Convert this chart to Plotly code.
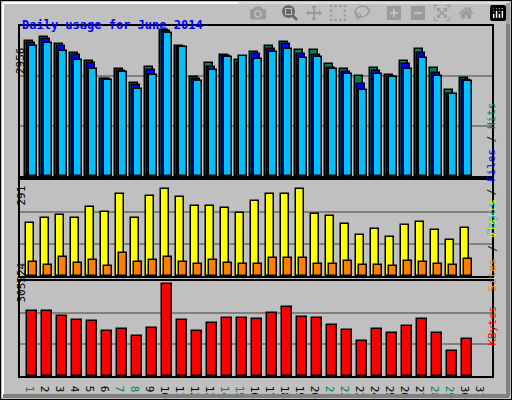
import plotly.graph_objects as go
from plotly.subplots import make_subplots

days = list(range(1, 32))
weekend_days = [1, 7, 8, 14, 15, 21, 22, 28, 29]

hits = [2734, 2815, 2674, 2493, 2332, 1970, 2171, 1890, 2211, 2956, 2634, 2010, 2292, 2453, 2352,
        2513, 2634, 2715, 2553, 2553, 2272, 2171, 2031, 2191, 2051, 2332, 2574, 2191, 1749, 1990]
files = [2694, 2775, 2634, 2453, 2292, 1970, 2131, 1850, 2151, 2936, 2614, 1970, 2212, 2433, 2292,
         2473, 2574, 2675, 2473, 2453, 2191, 2110, 1870, 2131, 2011, 2272, 2493, 2091, 1669, 1950]
pages = [2634, 2694, 2533, 2352, 2171, 1950, 2110, 1769, 2051, 2896, 2614, 1930, 2151, 2413, 2433,
         2373, 2513, 2574, 2393, 2413, 2171, 2071, 1749, 2071, 2010, 2171, 2393, 2031, 1669, 1930]
visits = [177, 192, 202, 195, 230, 215, 272, 195, 266, 291, 263, 234, 234, 228, 209,
          250, 272, 272, 291, 206, 199, 173, 136, 158, 130, 171, 181, 152, 120, 161]
sites = [47, 38, 63, 44, 54, 35, 76, 47, 54, 63, 47, 41, 54, 44, 41,
         41, 60, 60, 60, 41, 41, 51, 38, 38, 32, 51, 47, 41, 38, 57]
kbytes = [215997, 215997, 199210, 185780, 182423, 148849, 155564, 132062, 158921, 305524,
          185780, 148849, 175708, 192495, 192495, 189137, 209282, 229426, 195852, 192495,
          168993, 152206, 115275, 155564, 142134, 165636, 189137, 142134, 81701, 122633]

GREY = "#C0C0C0"
FONT = "DejaVu Sans Mono"

fig = make_subplots(rows=3, cols=1)
fig.update_layout(barmode="overlay")


def bars(vals, color, row, left, right):
    # left/right edges in pixels relative to the day tick (15 px per day)
    fig.add_trace(go.Bar(x=days[:30], y=vals, width=(right - left) / 15, offset=left / 15,
                         marker=dict(color=color, line=dict(color="black", width=1.5))),
                  row=row, col=1)


bars(hits, "#00805C", 1, -6, 2)
bars(files, "#0000FF", 1, -4, 4)
bars(pages, "#00C0FF", 1, -2, 6)
bars(visits, "#FFFF00", 2, -5, 3)
bars(sites, "#FF8000", 2, -2, 6)
bars(kbytes, "#FF0000", 3, -4, 6)

x0, x1 = 20 / 512, 492 / 512
doms = [(1 - 176 / 400, 1 - 26 / 400), (1 - 276 / 400, 1 - 180 / 400), (1 - 376 / 400, 1 - 281 / 400)]
maxes = [2956 * 1.03, 291 * 1.1, 305524 * 1.03]
for i in range(3):
    fig.update_yaxes(row=i + 1, col=1, domain=doms[i], range=[0, maxes[i]],
                     tickvals=[maxes[i] / 3, 2 * maxes[i] / 3], showticklabels=False,
                     gridcolor="#808080", gridwidth=1.5, zeroline=False,
                     showline=True, linecolor="black", linewidth=2, mirror=True)
    fig.update_xaxes(row=i + 1, col=1, domain=[x0, x1], range=[1 - 11 / 15, 1 - 11 / 15 + 472 / 15],
                     showgrid=False, zeroline=False, showline=True, linecolor="black",
                     linewidth=2, mirror=True, showticklabels=(i == 2), ticks="",
                     tickvals=days,
                     ticktext=[f'<span style="color:#00805C">{d}</span>' if d in weekend_days else str(d)
                               for d in days],
                     tickfont=dict(family=FONT, size=11, color="black"))

annos = [
    dict(x=12 / 512, y=1 - 45 / 400, text="2956"),
    dict(x=12 / 512, y=1 - 196 / 400, text="291"),
    dict(x=12 / 512, y=1 - 305 / 400, text="305524"),
]
for a in annos:
    fig.add_annotation(xref="paper", yref="paper", showarrow=False, textangle=-90,
                       font=dict(family=FONT, size=11, color="black"), **a)

right = [
    (1 - 100 / 400, '<span style="color:#00C0FF">Pages</span> / <span style="color:#0000FF">Files</span>'
                    ' / <span style="color:#00805C">Hits</span>'),
    (1 - 245 / 400, '<span style="color:#FF8000">Sites</span> / <span style="color:#E8E800">Visits</span>'),
    (1 - 348 / 400, '<span style="color:#FF0000">KBytes</span>'),
]
for yy, t in right:
    fig.add_annotation(xref="paper", yref="paper", x=500 / 512, y=yy, text=t, showarrow=False,
                       textangle=-90, font=dict(family=FONT, size=11, color="black"))

fig.add_annotation(xref="paper", yref="paper", x=20 / 512, y=1 - 16 / 400, xanchor="left",
                   text="<b>Daily usage for June 2014</b>", showarrow=False,
                   font=dict(family=FONT, size=12, color="#0000FF"))

# window frame bevel
fig.add_shape(type="rect", xref="paper", yref="paper", x0=0, y0=0, x1=1, y1=1,
              line=dict(color="black", width=2))
fig.add_shape(type="line", xref="paper", yref="paper", x0=3 / 512, y0=3 / 400, x1=3 / 512, y1=1 - 3 / 400,
              line=dict(color="white", width=2))
fig.add_shape(type="line", xref="paper", yref="paper", x0=3 / 512, y0=1 - 3 / 400, x1=1 - 3 / 512, y1=1 - 3 / 400,
              line=dict(color="white", width=2))
fig.add_shape(type="line", xref="paper", yref="paper", x0=1 - 4 / 512, y0=4 / 400, x1=1 - 4 / 512, y1=1 - 3 / 400,
              line=dict(color="#808080", width=4))
fig.add_shape(type="line", xref="paper", yref="paper", x0=3 / 512, y0=4 / 400, x1=1 - 3 / 512, y1=4 / 400,
              line=dict(color="#808080", width=4))

fig.update_layout(width=512, height=400, margin=dict(l=0, r=0, t=0, b=0),
                  paper_bgcolor=GREY, plot_bgcolor=GREY, showlegend=False, bargap=0)

fig.write_html("out.html", post_script="document.body.style.margin='0';document.body.style.overflow='hidden';")
